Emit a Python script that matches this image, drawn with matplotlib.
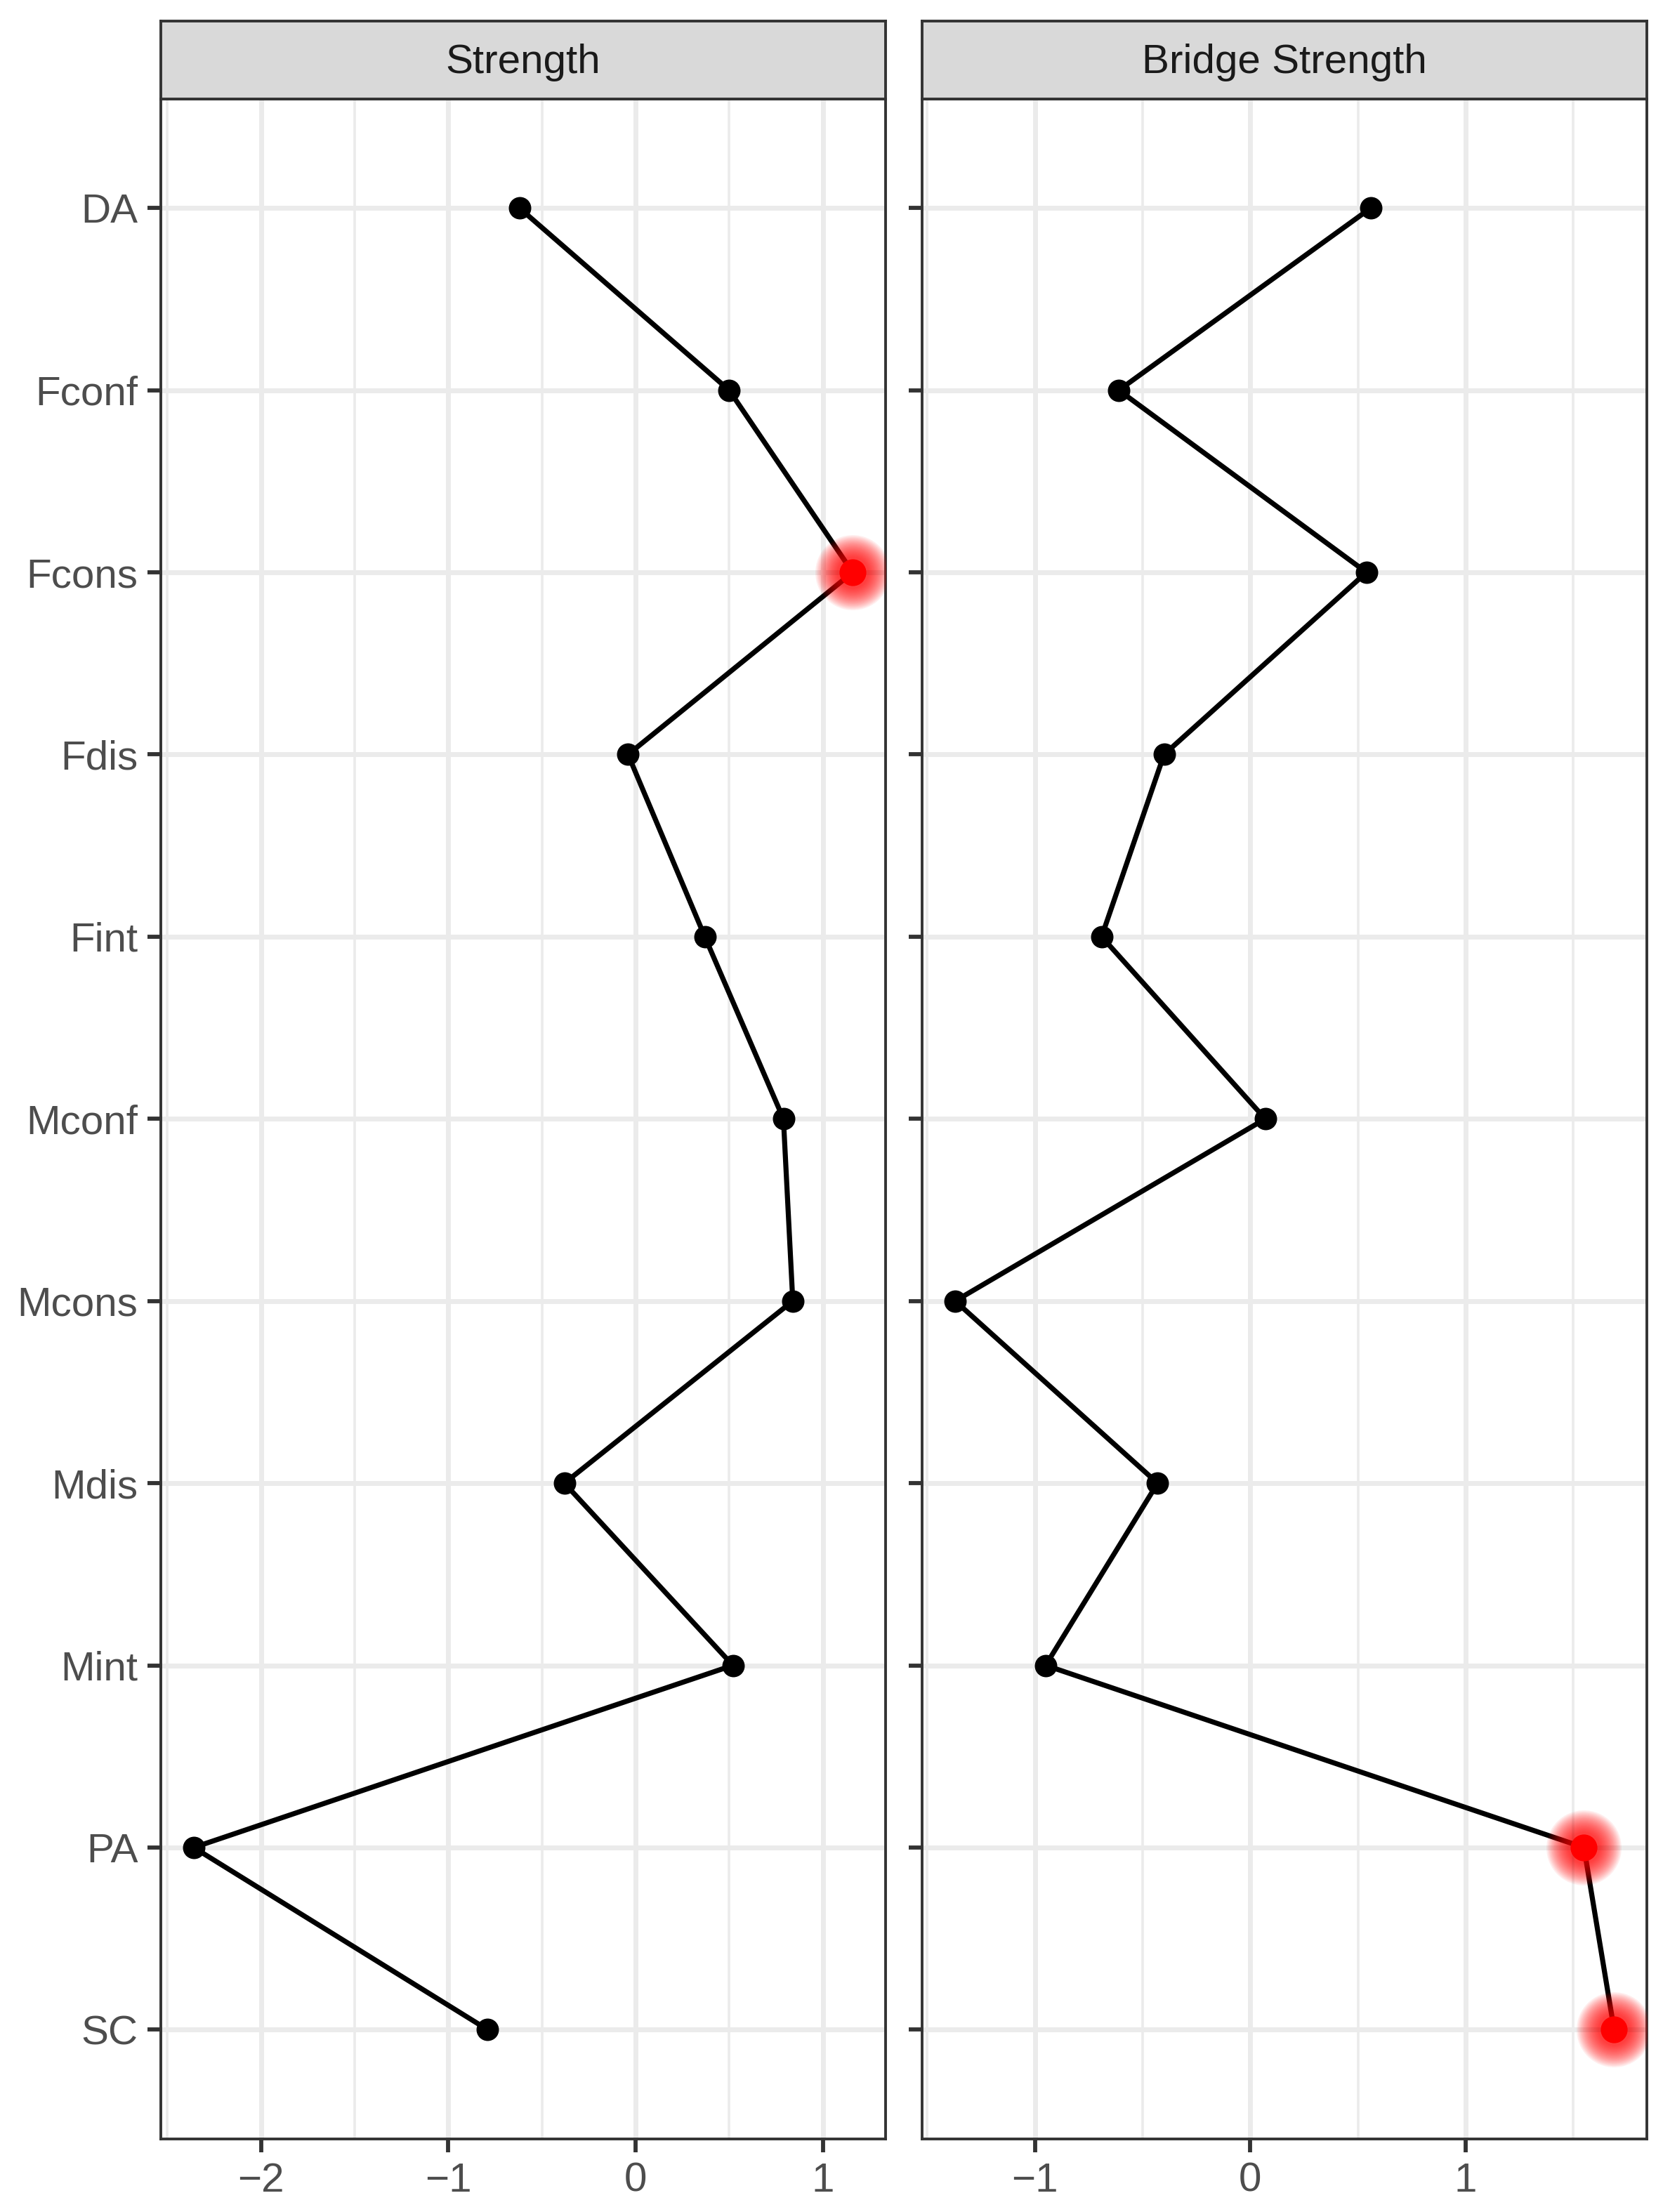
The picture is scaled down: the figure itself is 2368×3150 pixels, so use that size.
import numpy as np
import matplotlib
matplotlib.use("Agg")
import matplotlib.pyplot as plt

plt.rcParams['font.family'] = ['Liberation Sans', 'DejaVu Sans']

nodes = ["DA", "Fconf", "Fcons", "Fdis", "Fint", "Mconf", "Mcons", "Mdis", "Mint", "PA", "SC"]
strength = [-0.62, 0.50, 1.16, -0.04, 0.37, 0.79, 0.84, -0.38, 0.52, -2.36, -0.79]
bridge_strength = [0.56, -0.61, 0.54, -0.40, -0.69, 0.07, -1.37, -0.43, -0.95, 1.55, 1.69]
strength_flag = [False, False, True, False, False, False, False, False, False, False, False]
bridge_flag = [False, False, False, False, False, False, False, False, False, True, True]
panel_titles = ["Strength", "Bridge Strength"]
xticks_strength = [-2, -1, 0, 1]
xticks_bridge = [-1, 0, 1]

W, H = 2368, 3150
DPI = 100
fig = plt.figure(figsize=(W / DPI, H / DPI), dpi=DPI)

panel_bottom = 1 - 3046 / H
panel_top = 1 - 140.6 / H
strip_top = 1 - 30 / H
panels = [(228.9 / W, 1261.1 / W), (1313.2 / W, 2345.3 / W)]

datasets = [(strength, strength_flag, xticks_strength), (bridge_strength, bridge_flag, xticks_bridge)]

gray20 = "#333333"
grid_col = "#EBEBEB"
fs = 42

for i, ((x0, x1), (vals, flags, xt), title) in enumerate(zip(panels, datasets, panel_titles)):
    ax = fig.add_axes([x0, panel_bottom, x1 - x0, panel_top - panel_bottom])
    y = np.arange(len(nodes))[::-1]
    vals = np.array(vals)
    flags = np.array(flags)
    lo, hi = vals.min(), vals.max()
    pad = 0.05 * (hi - lo)
    ax.set_xlim(lo - pad, hi + pad)
    ax.set_ylim(-0.6, len(nodes) - 1 + 0.6)

    # grid
    minors = np.arange(np.floor(lo) - 0.5, np.ceil(hi) + 1, 1.0)
    for t in minors:
        ax.axvline(t, color=grid_col, lw=2.6, zorder=0)
    for t in xt:
        ax.axvline(t, color=grid_col, lw=5, zorder=0)
    for yy in y:
        ax.axhline(yy, color=grid_col, lw=5, zorder=0)

    ax.plot(vals, y, color="black", lw=5.2, zorder=2, solid_capstyle="butt")
    ax.scatter(vals[~flags], y[~flags], s=23 ** 2, color="black", zorder=3, linewidths=0)
    # glow for flagged points
    fv, fy = vals[flags], y[flags]
    n_layers = 18
    for k in range(n_layers):
        sz = (77 - k * 2.6) ** 2
        ax.scatter(fv, fy, s=sz, color="red", alpha=0.07, zorder=3, linewidths=0)
    ax.scatter(fv, fy, s=27.5 ** 2, color="red", zorder=4, linewidths=0)

    ax.set_xticks(xt)
    ax.set_xticklabels([f"{t}".replace("-", "\u2212") for t in xt])
    ax.set_yticks(y)
    if i == 0:
        ax.set_yticklabels(nodes)
    else:
        ax.set_yticklabels([])
    ax.tick_params(axis="both", length=13.5, width=4.2, color=gray20, labelsize=fs,
                   labelcolor="#4D4D4D", pad=10)
    for sp in ax.spines.values():
        sp.set_color(gray20)
        sp.set_linewidth(2.8)
    ax.set_facecolor("white")

    # strip
    sax = fig.add_axes([x0, panel_top, x1 - x0, strip_top - panel_top])
    sax.set_xticks([]); sax.set_yticks([])
    sax.set_facecolor("#D9D9D9")
    for sp in sax.spines.values():
        sp.set_color(gray20)
        sp.set_linewidth(2.8)
    sax.text(0.5, 0.47, title, ha="center", va="center", fontsize=fs, color="#1A1A1A",
             transform=sax.transAxes)

fig.savefig("out.png", dpi=DPI, facecolor="white")
